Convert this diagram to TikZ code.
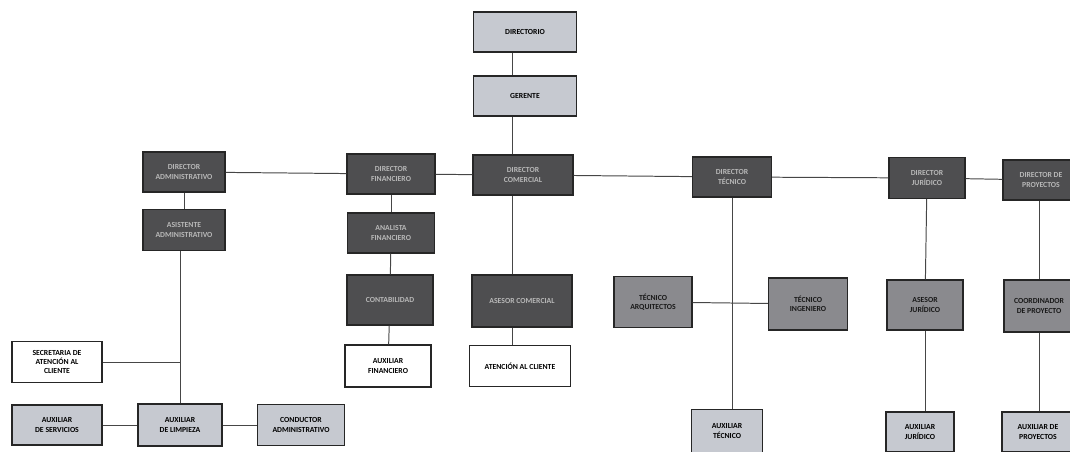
\documentclass[tikz,border=0pt]{standalone}
\usepackage{fontspec}
\setmainfont{Carlito}
\usetikzlibrary{shapes, positioning}
\definecolor{boxdark}{RGB}{78,78,80}
\definecolor{boxmid}{RGB}{138,138,142}
\definecolor{boxlight}{RGB}{198,201,208}
\definecolor{linegray}{RGB}{70,70,70}

\begin{document}
\begin{tikzpicture}[x=0.025cm, y=-0.025cm]
		% Define elements
		\tikzstyle{line} = [draw, line width=0.7pt, linegray]
		\tikzstyle{block} = [rectangle, draw=black!85, line width=0.8pt,
		    align=center, inner sep=1pt, font=\fontsize{5.5}{6.5}\selectfont\bfseries]
		\tikzstyle{darkblock} = [block, fill=boxdark, text=white!72!black]
		\tikzstyle{midblock} = [block, fill=boxmid, text=black!90]
		\tikzstyle{lightblock} = [block, fill=boxlight]
		\tikzstyle{plain} = [block, fill=white]
		\useasboundingbox (0,0) rectangle (1070,452);

		%% Direccion
		\node [name = dir, lightblock, minimum width=2.58cm, minimum height=1cm] at (525,32) {DIRECTORIO};
		\node [name = ger, lightblock, minimum width=2.58cm, minimum height=1cm] at (525,96) {GERENTE};
		\coordinate (trunk) at (512,0);

		%% Direcciones de area
		\node [name = adm, darkblock, minimum width=2.05cm, minimum height=1cm] at (184,172) {DIRECTOR\\ ADMINISTRATIVO};
		\node [name = fin, darkblock, minimum width=2.2cm, minimum height=1cm] at (391,174) {DIRECTOR\\ FINANCIERO};
		\node [name = com, darkblock, minimum width=2.5cm, minimum height=1cm] at (523,175) {DIRECTOR\\ COMERCIAL};
		\node [name = tec, darkblock, minimum width=1.98cm, minimum height=1cm] at (732,177) {DIRECTOR\\ TÉCNICO};
		\node [name = jur, darkblock, minimum width=1.9cm, minimum height=1.02cm] at (927,178) {DIRECTOR\\ JURÍDICO};
		\node [name = proy, darkblock, minimum width=1.9cm, minimum height=1cm] at (1041,180) {DIRECTOR DE\\ PROYECTOS};

		%% Administrativa
		\node [name = asis, darkblock, minimum width=2.05cm, minimum height=1.02cm] at (184,230) {ASISTENTE\\ ADMINISTRATIVO};
		\node [name = secr, plain, minimum width=2.25cm, minimum height=1.03cm] at (57,362) {SECRETARIA DE\\ ATENCIÓN AL\\ CLIENTE};
		\node [name = serv, lightblock, minimum width=2.25cm, minimum height=1cm] at (57,425) {AUXILIAR\\ DE SERVICIOS};
		\node [name = limp, lightblock, minimum width=2.1cm, minimum height=1.05cm] at (180,425) {AUXILIAR\\ DE LIMPIEZA};
		\node [name = cond, lightblock, minimum width=2.18cm, minimum height=1.03cm] at (301,425) {CONDUCTOR\\ ADMINISTRATIVO};

		%% Financiera
		\node [name = anal, darkblock, minimum width=2.18cm, minimum height=1cm] at (391,233) {ANALISTA\\ FINANCIERO};
		\node [name = cont, darkblock, minimum width=2.15cm, minimum height=1.25cm] at (390,300) {CONTABILIDAD};
		\node [name = auxf, plain, minimum width=2.15cm, minimum height=1.05cm] at (388,366) {AUXILIAR\\ FINANCIERO};

		%% Comercial
		\node [name = ases, darkblock, minimum width=2.5cm, minimum height=1.3cm] at (522,301) {ASESOR COMERCIAL};
		\node [name = aten, plain, minimum width=2.52cm, minimum height=1.03cm] at (520,366) {ATENCIÓN AL CLIENTE};

		%% Tecnica
		\node [name = arq, midblock, minimum width=1.95cm, minimum height=1.28cm] at (653,302) {TÉCNICO\\ ARQUITECTOS};
		\node [name = ing, midblock, minimum width=1.98cm, minimum height=1.3cm] at (808,304) {TÉCNICO\\ INGENIERO};
		\node [name = auxt, lightblock, minimum width=1.78cm, minimum height=1.08cm] at (727,431) {AUXILIAR\\ TÉCNICO};

		%% Juridica
		\node [name = asej, midblock, minimum width=1.9cm, minimum height=1.25cm] at (925,305) {ASESOR\\ JURÍDICO};
		\node [name = auxj, lightblock, minimum width=1.7cm, minimum height=1cm] at (920,432) {AUXILIAR\\ JURÍDICO};

		%% Proyectos
		\node [name = coor, midblock, minimum width=1.75cm, minimum height=1.3cm] at (1039,306) {COORDINADOR\\ DE PROYECTO};
		\node [name = auxp, lightblock, minimum width=1.8cm, minimum height=1cm] at (1038,432) {AUXILIAR DE\\ PROYECTOS};

	% lines
		\path [line] (dir.south -| trunk) -- (ger.north -| trunk);
		\path [line] (ger.south -| trunk) -- (com.north -| trunk);
		\path [line] (adm) -- (fin);
		\path [line] (fin) -- (com);
		\path [line] (com) -- (tec);
		\path [line] (tec) -- (jur);
		\path [line] (jur) -- (proy);
		\path [line] (adm) -- (asis);
		\path [line] (asis.south -| limp.north) -- (limp.north);
		\path [line] (secr.east) -- (secr.east -| limp.north);
		\path [line] (serv) -- (limp);
		\path [line] (limp) -- (cond);
		\path [line] (fin) -- (anal);
		\path [line] (anal) -- (cont);
		\path [line] (cont) -- (auxf);
		\path [line] (com.south -| trunk) -- (ases.north -| trunk);
		\path [line] (ases.south -| trunk) -- (aten.north -| trunk);
		\path [line] (tec) -- (tec |- auxt.north);
		\path [line] (arq) -- (ing);
		\path [line] (jur) -- (asej);
		\path [line] (asej) -- (asej |- auxj.north);
		\path [line] (proy.south -| coor.north) -- (coor);
		\path [line] (coor) -- (coor |- auxp.north);
	\end{tikzpicture}
\end{document}
